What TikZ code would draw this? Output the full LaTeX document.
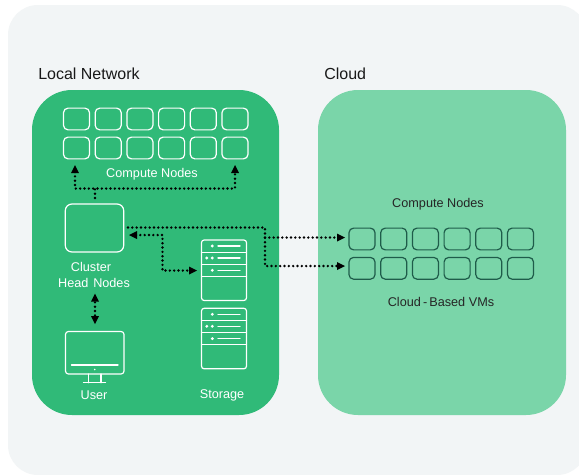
\documentclass[tikz,border=0pt]{standalone}
\usepackage{fontspec}
\setmainfont{Liberation Sans}
\usetikzlibrary{arrows.meta}
\definecolor{panel}{HTML}{F2F5F6}
\definecolor{gdark}{HTML}{30BA78}
\definecolor{glight}{HTML}{7AD5A9}
\definecolor{nodeline}{HTML}{1F5C4A}
\tikzset{
  x=0.75pt,y=-0.75pt,
  wbox/.style={draw=white,line width=0.9pt,rounded corners=3.4pt,minimum width=19.5pt,minimum height=16.3pt,inner sep=0pt},
  cbox/.style={draw=nodeline,line width=0.9pt,rounded corners=3.4pt,minimum width=19.5pt,minimum height=16.3pt,inner sep=0pt},
  wtxt/.style={text=white,font=\fontsize{9.5pt}{11pt}\selectfont,align=center,inner sep=0pt},
  ktxt/.style={text=black!85,font=\fontsize{9.5pt}{11pt}\selectfont,align=center,inner sep=0pt},
  ttl/.style={text=black!90,font=\fontsize{12pt}{14pt}\selectfont,anchor=west,inner sep=0pt},
  dots/.style={line width=2pt,line cap=round,dash pattern=on 0pt off 3.25pt},
  tip/.style={fill=black,draw=none},
  wl/.style={draw=white,line width=1pt,line cap=round}
}
\newcommand{\tipR}[1]{\fill[tip] (#1) ++(4,0) -- ++(-8,-4) -- ++(0,8) -- cycle;}
\newcommand{\tipL}[1]{\fill[tip] (#1) ++(-4,0) -- ++(8,-4) -- ++(0,8) -- cycle;}
\newcommand{\tipU}[1]{\fill[tip] (#1) ++(0,-4) -- ++(-4,8) -- ++(8,0) -- cycle;}
\newcommand{\tipD}[1]{\fill[tip] (#1) ++(0,4) -- ++(-4,-8) -- ++(8,0) -- cycle;}
\newcommand{\srv}[2]{%
  \draw[draw=white,line width=0.9pt,rounded corners=2pt] (201.5,#2) rectangle (246.5,#2+60.5);
  \draw[wl] (201.5,#2+12.3) -- (246.5,#2+12.3) (201.5,#2+24.3) -- (246.5,#2+24.3) (201.5,#2+36.5) -- (246.5,#2+36.5);
  \draw[wl] (218,#2+6) -- (240,#2+6) (218,#2+18) -- (240,#2+18) (218,#2+30.3) -- (240,#2+30.3);
  \fill[white] (212.3,#2+6) circle (1.6) (206.8,#2+18) circle (1.6) (212.3,#2+18) circle (1.6) (212.3,#2+30.3) circle (1.6);
}
\begin{document}
\begin{tikzpicture}
\useasboundingbox (0,0) rectangle (579,475);
\fill[white] (0,0) rectangle (579,475);
\fill[panel,rounded corners=22.5pt] (8,5) rectangle (587,475);
\fill[gdark,rounded corners=30pt] (32,90) rectangle (279,415);
\fill[glight,rounded corners=30pt] (318,90) rectangle (566,415);
\node[ttl] (tl) at (38,74) {Local Network};
\node[ttl] (tc) at (324,74) {Cloud};
\foreach \i/\x in {1/76.5,2/108.2,3/139.9,4/171.6,5/203.3,6/235}{
  \node[wbox] (a\i) at (\x,119) {};
  \node[wbox] (b\i) at (\x,148) {};
}
\foreach \i/\x in {1/362,2/393.7,3/425.4,4/457.1,5/488.8,6/520.5}{
  \node[cbox] (c\i) at (\x,239) {};
  \node[cbox] (d\i) at (\x,268.3) {};
}
\node[wtxt] (cn1) at (152,174) {Compute Nodes};
\node[ktxt] (cn2) at (438,204.5) {Compute Nodes};
\node[ktxt] (vm) at (441,302) {Cloud\,-\,Based VMs};
\node[draw=white,line width=0.9pt,rounded corners=5pt,minimum width=43.8pt,minimum height=36pt,inner sep=0pt] (head) at (94.5,228) {};
\node[wtxt] (ht) at (94,274.5) {Cluster\kern 4.5pt\\[1pt]Head\kern 1pt\ Nodes};
\node[wtxt] (usr) at (94,395) {User};
\node[wtxt] (sto) at (222,395.5) {Storage};
\srv{s1}{240}
\srv{s2}{308.3}
% monitor
\draw[draw=white,line width=0.9pt,rounded corners=2.2pt] (65.5,331.5) rectangle (124,374);
\draw[wl] (71.5,365) -- (118,365);
\fill[white] (94.7,369.5) circle (0.9);
\draw[wl] (88.3,374) -- (88.3,382.7) (101,374) -- (101,382.7);
\draw[wl] (83.5,382.7) -- (105.5,382.7);
% connectors
\coordinate (j1) at (95,188.5);
\coordinate (j2) at (75,188.5);
\coordinate (j3) at (235,188.5);
\draw[dots] (95,198) -- (j1);
\draw[dots] (75,172) -- (j2) -- (j3) -- (235,172);
\tipU{75,169}
\tipU{235,169}
\draw[dots] (128,227.5) -- (265,227.5) -- (265,266) -- (342,266);
\draw[dots] (265,237.5) -- (342,237.5);
\tipR{341,237.5}
\tipR{341,266}
\draw[dots] (136,235) -- (162.5,235) -- (162.5,270.5) -- (190,270.5);
\tipL{133,235}
\tipR{193,270.5}
\draw[dots] (95,298) -- (95,318);
\tipU{95,297.5}
\tipD{95,320}
\end{tikzpicture}
\end{document}
